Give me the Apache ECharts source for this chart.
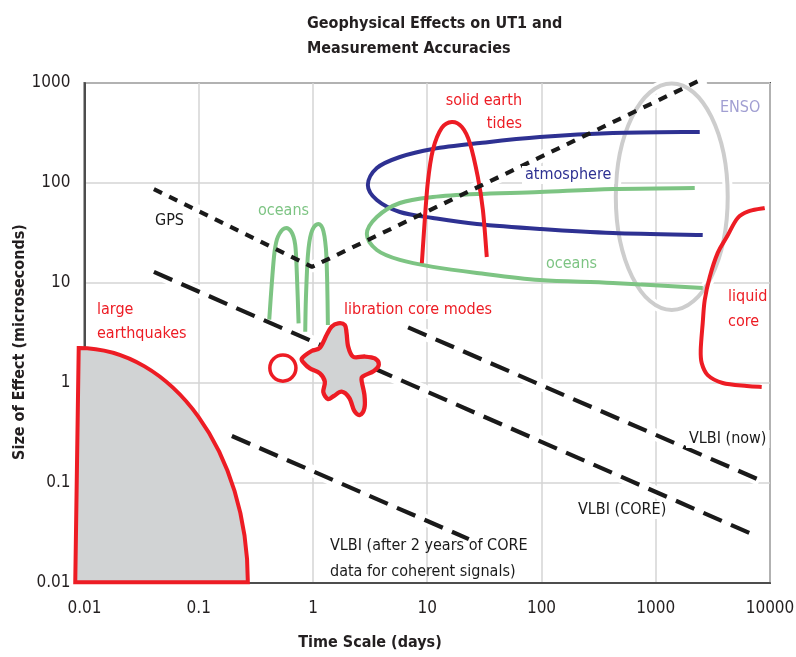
<!DOCTYPE html>
<html>
<head>
<meta charset="utf-8">
<script src="https://cdn.jsdelivr.net/npm/echarts@6/dist/echarts.min.js"></script>
<style>
  html, body { margin: 0; padding: 0; background: #fff; }
  #chart { width: 796px; height: 657px; }
</style>
</head>
<body>
<div id="chart"></div>
<script>
// ---- Axis ticks (powers of ten) ----
const timeTicks = [0.01, 0.1, 1, 10, 100, 1000, 10000];   // days
const sizeTicks = [0.01, 0.1, 1, 10, 100, 1000];          // microseconds

// ---- Measurement accuracy limits: [time scale (days), size (µs)] ----
const gpsAccuracy   = [[0.0405, 87], [0.98, 14.5], [2684, 1122]];
const vlbiNow       = [[6.8, 3.6], [8130, 0.107]];
const vlbiCore      = [[0.0405, 12.9], [6920, 0.0309]];
const vlbiAfterCore = [[0.195, 0.295], [23.1, 0.0275]];

// ---- Geophysical effects: [time scale (days), size (µs)] ----
const oceansSemidiurnal = [[0.414, 4.3], [0.437, 10.3], [0.461, 20.6], [0.493, 29.0], [0.564, 35.2],
                           [0.645, 32.6], [0.699, 24.0], [0.723, 12.0], [0.748, 3.95]];
const oceansDiurnal     = [[0.855, 3.26], [0.867, 7.03], [0.903, 19.1], [0.964, 31.4], [1.082, 38.6],
                           [1.213, 35.2], [1.297, 22.2], [1.331, 10.3], [1.35, 3.8]];
const solidEarthTides   = [[8.97, 15.8], [9.34, 31.6], [10.1, 100], [11.2, 214], [13.4, 355], [16.4, 407],
                           [20.1, 363], [23.6, 251], [27.7, 115], [30.7, 53.7], [33.2, 18.2]];
const atmosphere        = [[2427, 324], [421, 316], [96.6, 288], [28.9, 251], [11.2, 219], [5.76, 182],
                           [3.62, 141], [3.02, 95.5], [3.62, 67.6], [5.76, 51.3], [11.2, 44.7],
                           [27.2, 38.9], [96.6, 34.7], [421, 31.6], [2577, 30.2]];
const oceansLong        = [[2194, 89.1], [421, 87.1], [96.6, 81.3], [27.2, 77.6], [11.2, 72.4], [5.76, 63.1],
                           [3.62, 45.7], [2.96, 30.9], [3.62, 21.4], [5.76, 17.0], [11.2, 14.5],
                           [27.2, 12.6], [96.6, 10.7], [421, 10.0], [2577, 8.91]];
const liquidCore        = [[8988, 56.2], [6643, 52.5], [5216, 44.7], [4180, 28.8], [3487, 20.0], [2968, 11.5],
                           [2684, 6.76], [2577, 3.98], [2475, 2.14], [2526, 1.58], [2850, 1.2],
                           [3856, 1.0], [6256, 0.933], [8460, 0.912]];
// ENSO region: [min time, min size], [max time, max size]
const ensoRegion        = [[447, 5.37], [4265, 989]];
// Large earthquakes: top-left, bottom-left, bottom-right corners of the quarter ellipse
const earthquakeRegion  = [[0.0089, 2.24], [0.0083, 0.0102], [0.269, 0.0102]];
// Libration: small circle (centre, rim point) and core-mode blob outline
const librationCircle   = [[0.545, 1.41], [0.709, 1.41]];
const coreModes         = [[0.80, 1.76], [0.972, 2.09], [1.149, 2.25], [1.315, 3.02], [1.455, 3.66],
                           [1.662, 3.95], [1.901, 3.80], [1.968, 3.14], [2.032, 2.31], [2.247, 1.83],
                           [2.845, 1.84], [3.48, 1.76], [3.77, 1.53], [3.41, 1.32], [2.75, 1.17],
                           [2.66, 1.07], [2.82, 0.759], [2.82, 0.562], [2.57, 0.479], [2.30, 0.525],
                           [2.08, 0.708], [1.78, 0.818], [1.52, 0.741], [1.35, 0.692], [1.23, 0.813],
                           [1.27, 1.03], [1.149, 1.25], [0.939, 1.40], [0.838, 1.57]];

// ---- Styling ----
const FONT = "'Liberation Sans Narrow', 'DejaVu Sans Condensed', sans-serif";
const RED = '#ed1c24', NAVY = '#2e3192', GREEN = '#7dc483', BLACK = '#1a1a1a',
      ENSO_GRAY = '#cdcdcd', FILL_GRAY = '#d1d3d4', ENSO_TEXT = '#a19fd2', TEXT = '#231f20';

function tickText(ticks) {
  return v => {
    const t = ticks.find(k => Math.abs(Math.log10(k) - Math.log10(v)) < 1e-6);
    return t === undefined ? '' : String(t);
  };
}

// Catmull-Rom spline through pixel points, written as cubic Bézier path data
function splinePath(pts, closed) {
  const n = pts.length;
  const at = i => closed ? pts[(i + n) % n] : pts[Math.max(0, Math.min(n - 1, i))];
  let d = `M ${pts[0][0]} ${pts[0][1]}`;
  const segs = closed ? n : n - 1;
  for (let i = 0; i < segs; i++) {
    const p0 = at(i - 1), p1 = at(i), p2 = at(i + 1), p3 = at(i + 2);
    const c1x = p1[0] + (p2[0] - p0[0]) / 6, c1y = p1[1] + (p2[1] - p0[1]) / 6;
    const c2x = p2[0] - (p3[0] - p1[0]) / 6, c2y = p2[1] - (p3[1] - p1[1]) / 6;
    d += ` C ${c1x} ${c1y} ${c2x} ${c2y} ${p2[0]} ${p2[1]}`;
  }
  return closed ? d + ' Z' : d;
}

function shapeSeries(renderItem, z) {
  return { type: 'custom', coordinateSystem: 'cartesian2d', data: [[1, 1]], z, silent: true,
           clip: false, renderItem };
}
function curve(data, color, z) {
  return shapeSeries((params, api) => ({
    type: 'path',
    shape: { pathData: splinePath(data.map(p => api.coord(p)), false) },
    style: { fill: 'none', stroke: color, lineWidth: 4, lineCap: 'butt', lineJoin: 'round' }
  }), z);
}
function dashed(data, dash, z) {
  return { type: 'line', data, symbol: 'none', z, silent: true, clip: false,
           lineStyle: { color: BLACK, width: 4.2, type: dash, cap: 'butt' } };
}
function halo(data) {
  return { type: 'line', data, symbol: 'none', z: 1, silent: true, clip: false,
           lineStyle: { color: '#ffffff', width: 12, cap: 'butt' } };
}

function ensoEllipse(stroke, width) {
  return (params, api) => {
    const a = api.coord(ensoRegion[0]), b = api.coord(ensoRegion[1]);
    return { type: 'ellipse',
             shape: { cx: (a[0] + b[0]) / 2, cy: (a[1] + b[1]) / 2,
                      rx: Math.abs(b[0] - a[0]) / 2, ry: Math.abs(b[1] - a[1]) / 2 },
             style: { fill: 'none', stroke, lineWidth: width } };
  };
}

function earthquakeShape(params, api) {
  const tl = api.coord(earthquakeRegion[0]);
  const bl = api.coord(earthquakeRegion[1]);
  const br = api.coord(earthquakeRegion[2]);
  const rx = br[0] - tl[0], ry = br[1] - tl[1], k = 0.5523;
  const d = `M ${tl[0]} ${tl[1]} L ${bl[0]} ${bl[1]} L ${br[0]} ${br[1]} ` +
            `C ${br[0]} ${br[1] - k * ry} ${tl[0] + k * rx} ${tl[1]} ${tl[0]} ${tl[1]} Z`;
  return { type: 'path', shape: { pathData: d },
           style: { fill: FILL_GRAY, stroke: RED, lineWidth: 4, lineJoin: 'miter' } };
}

function circleShape(params, api) {
  const c = api.coord(librationCircle[0]), e = api.coord(librationCircle[1]);
  return { type: 'circle', shape: { cx: c[0], cy: c[1], r: Math.abs(e[0] - c[0]) },
           style: { fill: '#ffffff', stroke: RED, lineWidth: 3.5 } };
}

function coreModeShape(params, api) {
  return { type: 'path', shape: { pathData: splinePath(coreModes.map(p => api.coord(p)), true) },
           style: { fill: FILL_GRAY, stroke: RED, lineWidth: 4.3, lineJoin: 'round' } };
}

// Text annotations (pixel placement)
function note(text, x, y, fill, align, bg) {
  return { type: 'text', x, y, z: 50, silent: true,
           style: { text, fill, align: align || 'left', verticalAlign: 'middle',
                    font: `16px ${FONT}`,
                    backgroundColor: bg ? '#ffffff' : null, padding: bg ? [1, 3] : 0 } };
}

const chart = echarts.init(document.getElementById('chart'), null, { renderer: 'canvas' });

chart.setOption({
  animation: false,
  backgroundColor: '#ffffff',
  title: {
    text: 'Geophysical Effects on UT1 and\nMeasurement Accuracies',
    left: 302, top: 6,
    textStyle: { fontFamily: FONT, fontWeight: 'bold', fontSize: 16, lineHeight: 25, color: TEXT }
  },
  grid: { left: 84.5, right: 26, top: 83, bottom: 74, containLabel: false, outerBoundsMode: 'none',
          show: true, borderColor: '#4d4d4d', borderWidth: 2 },
  xAxis: {
    type: 'log', logBase: 10, min: 0.01, max: 10000,
    axisLine: { show: true, lineStyle: { color: '#4d4d4d', width: 2 } },
    axisTick: { show: false },
    splitLine: { show: true, lineStyle: { color: '#d4d4d4', width: 1.5 } },
    minorSplitLine: { show: false },
    axisLabel: { formatter: tickText(timeTicks), color: TEXT, fontFamily: FONT, fontSize: 17, margin: 17 }
  },
  yAxis: {
    type: 'log', logBase: 10, min: 0.01, max: 1000,
    axisLine: { show: true, lineStyle: { color: '#4d4d4d', width: 2 } },
    axisTick: { show: false },
    splitLine: { show: true, lineStyle: { color: '#d4d4d4', width: 1.5 } },
    axisLabel: { formatter: tickText(sizeTicks), color: TEXT, fontFamily: FONT, fontSize: 17, margin: 14 }
  },
  series: [
    // white knock-outs under the accuracy lines and the ENSO ellipse
    halo(gpsAccuracy), halo(vlbiNow), halo(vlbiCore), halo(vlbiAfterCore),
    shapeSeries(ensoEllipse('#ffffff', 10), 1),

    shapeSeries(ensoEllipse(ENSO_GRAY, 4), 2),
    curve(atmosphere, NAVY, 3),
    curve(oceansLong, GREEN, 3),
    curve(oceansSemidiurnal, GREEN, 3),
    curve(oceansDiurnal, GREEN, 3),
    curve(solidEarthTides, RED, 4),
    curve(liquidCore, RED, 4),

    dashed(gpsAccuracy, [9, 8], 5),
    dashed(vlbiNow, [20, 10], 5),
    dashed(vlbiCore, [20, 10], 5),
    dashed(vlbiAfterCore, [20, 10], 5),

    shapeSeries(earthquakeShape, 6),
    shapeSeries(circleShape, 6),
    shapeSeries(coreModeShape, 6)
  ],
  graphic: [
    note('solid earth', 522, 101, RED, 'right'),
    note('tides', 522, 124, RED, 'right'),
    note('atmosphere', 522, 175, NAVY, 'left', true),
    note('ENSO', 720, 108, ENSO_TEXT, 'left'),
    note('oceans', 546, 264, GREEN, 'left'),
    note('oceans', 258, 211, GREEN, 'left'),
    note('GPS', 152, 221, BLACK, 'left', true),
    note('large', 97, 310, RED, 'left'),
    note('earthquakes', 97, 334, RED, 'left'),
    note('libration core modes', 341, 310, RED, 'left', true),
    note('liquid', 728, 297, RED, 'left'),
    note('core', 728, 322, RED, 'left'),
    note('VLBI (now)', 686, 439, BLACK, 'left', true),
    note('VLBI (CORE)', 575, 510, BLACK, 'left', true),
    note('VLBI (after 2 years of CORE', 330, 546, BLACK, 'left'),
    note('data for coherent signals)', 330, 572, BLACK, 'left'),
    { type: 'text', x: 370, y: 643, z: 50, silent: true,
      style: { text: 'Time Scale (days)', fill: TEXT, align: 'center', verticalAlign: 'middle',
               font: `bold 16px ${FONT}` } },
    { type: 'text', x: 20, y: 342, rotation: Math.PI / 2, z: 50, silent: true,
      style: { text: 'Size of Effect (microseconds)', fill: TEXT, align: 'center', verticalAlign: 'middle',
               font: `bold 16px ${FONT}` } }
  ]
});
</script>
</body>
</html>
